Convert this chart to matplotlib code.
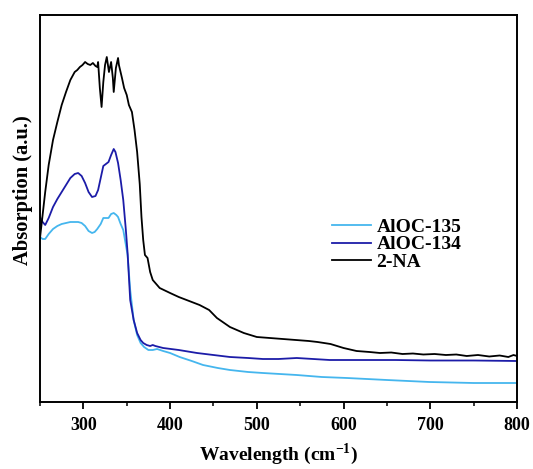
import numpy as np
import matplotlib
matplotlib.use("Agg")
import matplotlib.pyplot as plt
from matplotlib.ticker import MultipleLocator

# valores (absorcion en unidades arbitrarias)
x_na = [250, 253, 256, 260, 265, 270, 275, 280, 285, 290, 293, 296, 299, 302, 305, 308,
        311, 314, 316, 317, 319, 321, 323, 325, 327, 329.5, 332, 334, 335, 337.5, 340,
        341, 344.5, 347, 350, 352.5, 356, 359, 362, 365, 367, 369, 371, 374, 377, 380,
        388, 400, 410, 419, 434, 445, 454, 469, 485, 500, 515, 530, 545, 560, 570, 585,
        600, 615, 630, 642, 655, 668, 680, 692, 705, 718, 730, 742, 755, 768, 780, 790,
        796, 800]
y_na = [1.64, 1.87, 2.10, 2.37, 2.62, 2.80, 2.97, 3.10, 3.22, 3.30, 3.32, 3.35, 3.37,
        3.40, 3.38, 3.37, 3.39, 3.36, 3.35, 3.40, 3.14, 2.95, 3.20, 3.37, 3.45, 3.30,
        3.40, 3.24, 3.10, 3.34, 3.44, 3.37, 3.24, 3.14, 3.07, 2.97, 2.90, 2.72, 2.50,
        2.18, 1.85, 1.62, 1.47, 1.44, 1.30, 1.22, 1.14, 1.09, 1.05, 1.02, 0.97, 0.92,
        0.84, 0.75, 0.69, 0.65, 0.64, 0.63, 0.62, 0.61, 0.60, 0.58, 0.54, 0.51, 0.50,
        0.49, 0.495, 0.48, 0.485, 0.475, 0.48, 0.47, 0.475, 0.46, 0.47, 0.455, 0.465,
        0.45, 0.47, 0.46]

x_134 = [250, 253, 256, 260, 265, 270, 275, 280, 285, 290, 294, 298, 302, 306, 310, 314,
         317, 320, 323, 326, 329, 332, 335, 337, 340, 343, 346, 349, 351, 354, 358, 362,
         366, 369, 373, 377, 380, 383, 392, 410, 431, 450, 469, 490, 507, 525, 546, 565,
         584, 620, 660, 700, 750, 800]
y_134 = [1.85, 1.80, 1.77, 1.84, 1.95, 2.03, 2.10, 2.17, 2.24, 2.28, 2.29, 2.26, 2.19,
         2.10, 2.05, 2.06, 2.12, 2.24, 2.36, 2.38, 2.40, 2.47, 2.53, 2.50, 2.39, 2.22, 2.02,
         1.72, 1.49, 1.02, 0.82, 0.69, 0.62, 0.59, 0.57, 0.56, 0.57, 0.56, 0.54, 0.52, 0.49,
         0.47, 0.45, 0.44, 0.43, 0.43, 0.44, 0.43, 0.42, 0.42, 0.42, 0.415, 0.415, 0.41]

x_135 = [250, 253, 256, 260, 265, 270, 275, 280, 285, 290, 294, 298, 302, 306, 310, 313,
         316, 320, 323, 326, 329, 332, 335, 338, 340, 343, 346, 348, 351, 354, 358, 362,
         366, 370, 375, 380, 385, 392, 400, 411, 425, 438, 455, 469, 490, 507, 546, 575,
         604, 650, 699, 750, 800]
y_135 = [1.65, 1.63, 1.63, 1.68, 1.73, 1.76, 1.78, 1.79, 1.80, 1.80, 1.80, 1.79, 1.76,
         1.71, 1.69, 1.70, 1.73, 1.78, 1.84, 1.84, 1.84, 1.88, 1.89, 1.87, 1.85, 1.78, 1.72,
         1.62, 1.47, 1.12, 0.82, 0.67, 0.59, 0.55, 0.52, 0.52, 0.53, 0.51, 0.49, 0.45, 0.41,
         0.37, 0.34, 0.32, 0.30, 0.29, 0.27, 0.25, 0.24, 0.22, 0.20, 0.19, 0.19]

etiquetas = ["AlOC-135", "AlOC-134", "2-NA"]
colores = ["#45b6ee", "#1c1ca8", "#000000"]

plt.rcParams['font.family'] = ['Liberation Serif', 'DejaVu Serif']
plt.rcParams['font.weight'] = 'bold'
plt.rcParams['mathtext.fontset'] = 'custom'
plt.rcParams['mathtext.bf'] = 'Liberation Serif:bold'
plt.rcParams['mathtext.rm'] = 'Liberation Serif:bold'

fig = plt.figure(figsize=(5.33, 4.69), dpi=100)
ax = fig.add_axes([40/533, 1 - 402/469, 477/533, 387/469])

ax.plot(x_135, y_135, color=colores[0], lw=1.3, label=etiquetas[0])
ax.plot(x_134, y_134, color=colores[1], lw=1.3, label=etiquetas[1])
ax.plot(x_na, y_na, color=colores[2], lw=1.3, label=etiquetas[2])

ax.set_xlim(250, 800)
ax.set_ylim(0, 3.87)
ax.xaxis.set_major_locator(MultipleLocator(100))
ax.xaxis.set_minor_locator(MultipleLocator(50))
ax.tick_params(axis='x', which='major', direction='out', length=5, width=1.3, labelsize=13, pad=6)
ax.tick_params(axis='x', which='minor', direction='out', length=3, width=1.1)
ax.set_yticks([])
for s in ax.spines.values():
    s.set_linewidth(1.4)

ax.set_xlabel("Wavelength (cm$^{\\mathrm{-1}}$)", fontsize=14, fontweight='bold', labelpad=5)
ax.set_ylabel("Absorption (a.u.)", fontsize=14.8, fontweight='bold')
ax.yaxis.set_label_coords(-0.015, 0.548)

leg = ax.legend(loc='upper left', bbox_to_anchor=(0.575, 0.52), frameon=False,
                prop={'size': 14, 'weight': 'bold'}, handlelength=2.0,
                handletextpad=0.3, labelspacing=0.0)

fig.savefig("out.png", dpi=100)
